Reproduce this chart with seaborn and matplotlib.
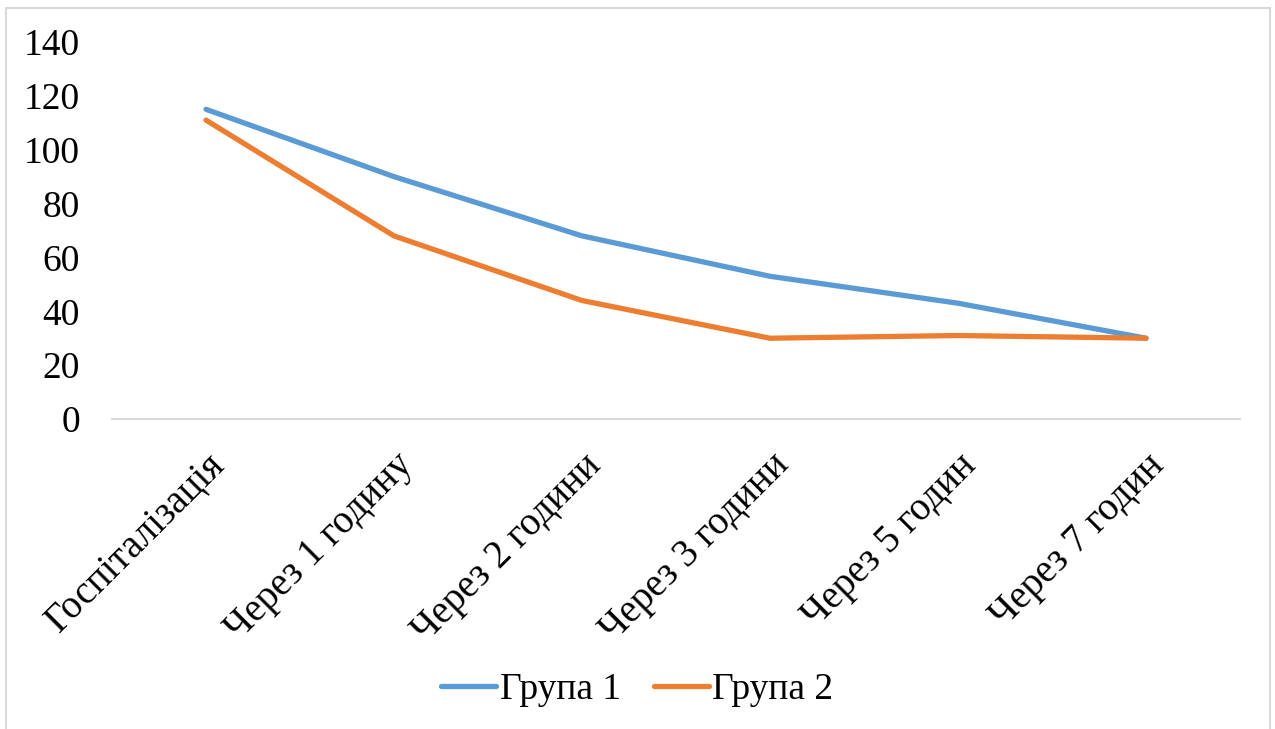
import matplotlib
matplotlib.use("Agg")
import matplotlib.pyplot as plt
import seaborn as sns
import pandas as pd
from matplotlib.patches import Rectangle

categories = ["Госпіталізація", "Через 1 годину", "Через 2 години",
              "Через 3 години", "Через 5 годин", "Через 7 годин"]
group1 = [115, 90, 68, 53, 43, 30]
group2 = [111, 68, 44, 30, 31, 30]
series_names = ["Група 1", "Група 2"]
yticks = [0, 20, 40, 60, 80, 100, 120, 140]

df = pd.DataFrame({
    "x": list(range(len(categories))) * 2,
    "value": group1 + group2,
    "series": [series_names[0]] * len(group1) + [series_names[1]] * len(group2),
})

sns.set_theme(style="white")
plt.rcParams['font.family'] = ['Liberation Serif', 'DejaVu Serif']
plt.rcParams['text.color'] = 'black'
plt.rcParams['xtick.color'] = 'black'
plt.rcParams['ytick.color'] = 'black'

FS = 27

fig = plt.figure(figsize=(12.75, 7.29), dpi=100)
ax = fig.add_axes([112/1275, 1-419/729, (1240-112)/1275, (419-42)/729])

palette = {series_names[0]: "#5B9BD5", series_names[1]: "#ED7D31"}
sns.lineplot(data=df, x="x", y="value", hue="series", palette=palette,
             linewidth=3.8, ax=ax, legend=True, solid_capstyle="round")

ax.set_xlim(-0.5, len(categories) - 0.5)
ax.set_ylim(0, 140)
ax.set_yticks(yticks)
ax.set_yticklabels([str(v) for v in yticks], fontsize=FS, color="black")
ax.set_xticks(range(len(categories)))
ax.set_xticklabels(categories, fontsize=28, rotation=45, ha="right",
                   va="top", rotation_mode="anchor", color="black")
ax.tick_params(axis="x", length=0, pad=20)
ax.tick_params(axis="y", length=0, pad=23)
ax.set_xlabel("")
ax.set_ylabel("")
for s in ["top", "right", "left"]:
    ax.spines[s].set_visible(False)
ax.spines["bottom"].set_color("#D9D9D9")
ax.spines["bottom"].set_linewidth(1.5)
ax.grid(False)

handles, labels = ax.get_legend_handles_labels()
ax.legend_.remove()
leg = fig.legend(handles, labels, loc="center", bbox_to_anchor=(0.5, 1-690/729),
                 ncol=2, frameon=False, fontsize=FS, handlelength=1.45,
                 handletextpad=0.1, columnspacing=0.9)
for h in leg.legend_handles:
    h.set_linewidth(3.8)
for t in leg.get_texts():
    t.set_color("black")

fig.patches.append(Rectangle((6/1275, -0.05), (1270-6)/1275, 1.05 - 8/729,
                             transform=fig.transFigure, fill=False,
                             edgecolor="#D9D9D9", linewidth=1.5))

fig.savefig("out.png", dpi=100, facecolor="white")
